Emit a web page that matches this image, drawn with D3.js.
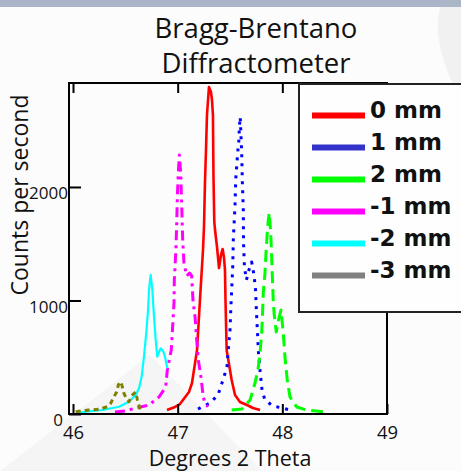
<!DOCTYPE html>
<html>
<head>
<meta charset="utf-8">
<script src="https://cdn.jsdelivr.net/npm/d3@7"></script>
<style>
  html, body { margin: 0; padding: 0; background: #fcfcfc; }
  svg { display: block; }
</style>
</head>
<body>
<svg id="chart" width="461" height="471"></svg>
<script>
// Diffraction peak scans (2-theta in degrees, counts per second) for each sample offset
const seriesNames = ["0 mm", "1 mm", "2 mm", "-1 mm", "-2 mm", "-3 mm"];
const lineColors = ["#ff0000", "#0000ff", "#00ff00", "#ff00ff", "#00ffff", "#808000"];
const legendColors = ["#ff0000", "#3333cc", "#00ff00", "#ff00ff", "#00ffff", "#808080"];
const xTickValues = [46, 47, 48, 49];
const yTickValues = [0, 1000, 2000];

const scan0mm = [
  [46.898, 35], [46.975, 62], [47.022, 88], [47.108, 194], [47.137, 273], [47.185, 564],
  [47.213, 1004], [47.242, 1445], [47.252, 1665], [47.261, 2044], [47.271, 2335],
  [47.280, 2634], [47.299, 2881], [47.318, 2837], [47.328, 2767], [47.337, 2634],
  [47.342, 2106], [47.350, 1692], [47.357, 1621], [47.376, 1471], [47.395, 1286],
  [47.414, 1401], [47.430, 1454], [47.443, 1374], [47.452, 1269], [47.457, 1004],
  [47.468, 564], [47.516, 300], [47.548, 167], [47.595, 106], [47.662, 79],
  [47.720, 53], [47.787, 35]
];
const scan1mm = [
  [47.194, 44], [47.309, 97], [47.385, 167], [47.433, 300], [47.471, 414], [47.481, 537],
  [47.500, 740], [47.510, 978], [47.526, 1295], [47.532, 1542], [47.548, 1841],
  [47.555, 2070], [47.567, 2220], [47.576, 2326], [47.586, 2423], [47.589, 2529],
  [47.598, 2617], [47.612, 2291], [47.618, 2044], [47.627, 1806], [47.629, 1515],
  [47.638, 1295], [47.657, 1181], [47.681, 1269], [47.707, 1339], [47.729, 1225],
  [47.744, 1093], [47.753, 890], [47.763, 714], [47.772, 537], [47.793, 326],
  [47.806, 211], [47.834, 123], [47.911, 70], [47.997, 53], [48.073, 35]
];
const scan2mm = [
  [47.516, 35], [47.615, 44], [47.692, 123], [47.739, 273], [47.767, 388], [47.787, 537],
  [47.803, 714], [47.812, 916], [47.818, 1066], [47.834, 1242], [47.844, 1419],
  [47.856, 1595], [47.866, 1709], [47.875, 1774], [47.889, 1595], [47.898, 1383],
  [47.914, 978], [47.923, 872], [47.942, 722], [47.963, 828], [47.987, 916],
  [48.009, 714], [48.025, 502], [48.047, 300], [48.073, 150], [48.137, 62],
  [48.233, 35], [48.388, 20]
];
const scanMinus1mm = [
  [46.401, 18], [46.497, 26], [46.602, 53], [46.726, 79], [46.822, 150], [46.886, 238],
  [46.901, 388], [46.939, 564], [46.965, 978], [46.968, 1181], [46.975, 1295],
  [46.984, 1471], [46.991, 1683], [46.997, 1912], [47.006, 2123], [47.016, 2282],
  [47.029, 2123], [47.039, 1824], [47.048, 1533], [47.060, 1330], [47.086, 1216],
  [47.113, 1242], [47.134, 1216], [47.146, 1004], [47.166, 855], [47.182, 652],
  [47.197, 476], [47.220, 344], [47.245, 150], [47.261, 97], [47.290, 62]
];
const scanMinus2mm = [
  [46.026, 11], [46.121, 20], [46.280, 35], [46.440, 64], [46.535, 108], [46.599, 167],
  [46.631, 226], [46.656, 329], [46.678, 505], [46.700, 714], [46.717, 916],
  [46.726, 1093], [46.742, 1225], [46.758, 1093], [46.774, 857], [46.790, 652],
  [46.805, 505], [46.822, 546], [46.838, 579], [46.863, 549], [46.879, 505], [46.901, 403]
];
const scanMinus3mm = [
  [46.026, 20], [46.153, 35], [46.248, 41], [46.328, 64], [46.360, 94], [46.392, 152],
  [46.418, 196], [46.433, 256], [46.456, 285], [46.471, 241], [46.487, 182],
  [46.509, 138], [46.535, 108], [46.554, 150], [46.576, 176], [46.599, 194],
  [46.616, 123], [46.647, 20]
];

const scans = [scan0mm, scan1mm, scan2mm, scanMinus1mm, scanMinus2mm, scanMinus3mm];
const dashes = [null, "3,6", "12,6", "10,5,3,5", null, "5,4"];
const widths = [2.6, 3, 3, 3, 2.2, 3];

const svg = d3.select("#chart");
const W = 461, H = 471;

// slide backdrop
svg.append("rect").attr("width", W).attr("height", H).attr("fill", "#fcfcfc");
svg.append("path").attr("d", "M0,471 L150,355 L262,471 Z").attr("fill", "#f5f5f5");
svg.append("path").attr("d", "M461,0 L442,0 Q428,40 461,100 Z").attr("fill", "#f1f1f1");
svg.append("rect").attr("width", W).attr("height", 7).attr("fill", "#aab5c8");

const frame = { left: 69, right: 387, top: 83, bottom: 414 };
const x = d3.scaleLinear().domain([46, 49]).range([73, frame.right]);
const y = d3.scaleLinear().domain([0, 2916]).range([frame.bottom, frame.top]);

// title
const title = svg.append("text")
  .attr("text-anchor", "middle")
  .attr("font-family", "Open Sans, sans-serif")
  .attr("font-size", 27.5)
  .attr("fill", "#111");
title.append("tspan").attr("x", 256).attr("y", 38).text("Bragg-Brentano");
title.append("tspan").attr("x", 256).attr("y", 73).text("Diffractometer");

// curves
const line = d3.line().x(d => x(d[0])).y(d => y(d[1]));
const plot = svg.append("g");
scans.forEach((s, i) => {
  plot.append("path")
    .datum(s)
    .attr("d", line)
    .attr("fill", "none")
    .attr("stroke", lineColors[i])
    .attr("stroke-width", widths[i])
    .attr("stroke-linejoin", "round")
    .attr("stroke-dasharray", dashes[i]);
});

// axes (ticks point inward)
const xAxisBottom = d3.axisBottom(x).tickValues(xTickValues).tickFormat(d3.format("d"))
  .tickSizeInner(-10).tickSizeOuter(0);
const gxb = svg.append("g").attr("transform", `translate(0,${frame.bottom})`).call(xAxisBottom);
gxb.select(".domain").remove();
gxb.selectAll("line").attr("stroke", "#000").attr("stroke-width", 2);
gxb.selectAll("text").attr("y", 25).attr("dy", null)
  .attr("font-family", "Open Sans, sans-serif").attr("font-size", 18.5).attr("fill", "#111");

const xAxisTop = d3.axisTop(x).tickValues(xTickValues.slice(0, 3)).tickFormat("")
  .tickSizeInner(-10).tickSizeOuter(0);
const gxt = svg.append("g").attr("transform", `translate(0,${frame.top})`).call(xAxisTop);
gxt.select(".domain").remove();
gxt.selectAll("line").attr("stroke", "#000").attr("stroke-width", 2);

const yAxis = d3.axisLeft(y).tickValues(yTickValues).tickFormat(d3.format("d"))
  .tickSizeInner(-12).tickSizeOuter(0);
const gy = svg.append("g").attr("transform", `translate(${frame.left},0)`).call(yAxis);
gy.select(".domain").remove();
gy.selectAll("line").attr("stroke", "#000").attr("stroke-width", 2);
gy.selectAll("text")
  .attr("x", d => d === 0 ? -6 : -1).attr("dy", null).attr("y", d => d === 0 ? 11 : 12)
  .attr("font-family", "Open Sans, sans-serif").attr("font-size", 17).attr("fill", "#111");

// frame
svg.append("path")
  .attr("d", `M${frame.left},${frame.top} H${frame.right} V${frame.bottom} H${frame.left} Z`)
  .attr("fill", "none").attr("stroke", "#000").attr("stroke-width", 2);

// axis titles
svg.append("text")
  .attr("transform", "translate(28,195) rotate(-90)")
  .attr("text-anchor", "middle")
  .attr("font-family", "Open Sans, sans-serif").attr("font-size", 23).attr("fill", "#111")
  .text("Counts per second");
svg.append("text")
  .attr("x", 230).attr("y", 466)
  .attr("text-anchor", "middle")
  .attr("font-family", "Open Sans, sans-serif").attr("font-size", 21.5).attr("fill", "#111")
  .text("Degrees 2 Theta");

// legend
const legend = svg.append("g");
legend.append("rect")
  .attr("x", 299).attr("y", 84).attr("width", 180).attr("height", 228)
  .attr("fill", "#fefefe").attr("stroke", "#222").attr("stroke-width", 2);
seriesNames.forEach((name, i) => {
  const cy = 115.5 + i * 32;
  legend.append("line")
    .attr("x1", 312).attr("x2", 365).attr("y1", cy).attr("y2", cy)
    .attr("stroke", legendColors[i]).attr("stroke-width", 6);
  legend.append("text")
    .attr("x", 370).attr("y", cy + 2)
    .attr("font-family", "DejaVu Sans, sans-serif").attr("font-weight", "bold")
    .attr("font-size", 23).attr("fill", "#111")
    .text(name);
});
</script>
</body>
</html>
